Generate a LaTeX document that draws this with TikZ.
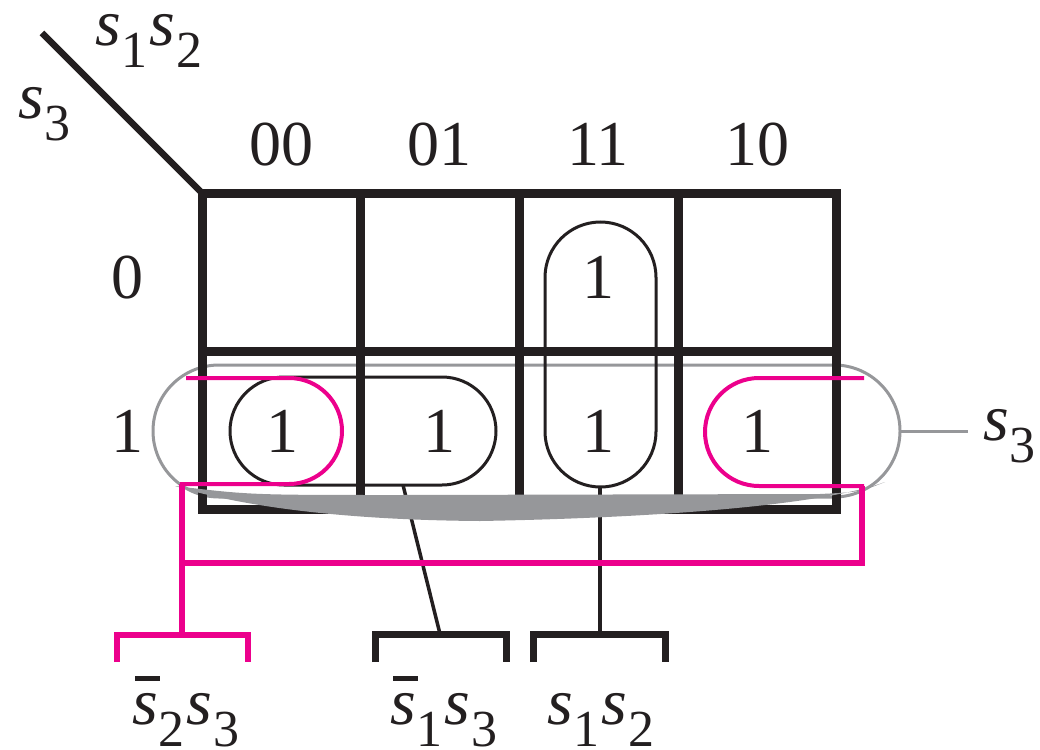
\documentclass[tikz,border=0pt]{standalone}
\usepackage{fontspec}
\setmainfont{Liberation Serif}
\definecolor{kblack}{RGB}{35,31,32}
\definecolor{kpink}{RGB}{236,0,140}
\definecolor{kgray}{RGB}{150,151,154}
\newcommand{\digitfont}{\fontsize{64}{64}\selectfont}
\newcommand{\sv}[1]{{\fontsize{66}{66}\selectfont\itshape s}\kern1pt\raisebox{-22pt}{\fontsize{52}{52}\selectfont #1}\kern2pt}
\newcommand{\sbv}[1]{\rlap{\kern3pt\color{kblack}\rule[43pt]{25pt}{5pt}}\sv{#1}}
\tikzset{
  gridline/.style={kblack, line width=9pt, line cap=rect},
  loopline/.style={kblack, line width=3pt},
  stemline/.style={kblack, line width=3.5pt},
  bracketline/.style={kblack, line width=7pt},
  pinkloop/.style={kpink, line width=4pt},
  pinkline/.style={kpink, line width=6pt},
  grayloop/.style={kgray, line width=3pt},
  lab/.style={inner sep=0pt, text=kblack},
  dig/.style={inner sep=0pt, text=kblack, font=\digitfont, anchor=base},
}
\begin{document}
\begin{tikzpicture}[x=1pt,y=-1pt]
\useasboundingbox (0,0) rectangle (1040,749);
% gray s3 loop (under the grid)
\draw[grayloop, rounded corners=66pt] (153,365) rectangle (900,497);
\coordinate (g3r) at (900,431);
\coordinate (g3e) at (968,431);
\draw[grayloop] (g3r) -- (g3e);
% grid
\coordinate (c0) at (202,193);
\draw[gridline] (202,193) rectangle (836,509);
\draw[gridline] (202,351) -- (836,351);
\foreach \x in {360,519,678} \draw[gridline] (\x,193) -- (\x,509);
\coordinate (d0) at (42,33);
\draw[kblack, line width=6.5pt] (d0) -- (c0);
% black loops
\draw[loopline, rounded corners=54pt] (230,377) rectangle (496,485);
\draw[loopline, rounded corners=55.5pt] (545,222) rectangle (656,487);
\coordinate (l13) at (403,485);
\coordinate (l12) at (600,487);
% brackets (black)
\coordinate (b13) at (440,634);
\coordinate (b12) at (600,634);
\draw[bracketline] (375,662) -- (375,634) -- (506,634) -- (506,662);
\draw[bracketline] (533,662) -- (533,634) -- (665,634) -- (665,662);
\draw[stemline] (l13) -- (b13);
\draw[stemline] (l12) -- (b12);
% gray band
\fill[kgray] (175,486) .. controls (250,495) .. (400,495) -- (820,494)
  .. controls (860,492) .. (885,482)
  .. controls (820,506) and (650,518) .. (480,521)
  .. controls (340,520) and (240,506) .. (175,486) -- cycle;
% pink loops
\draw[pinkloop, rounded corners=53pt] (186,378) -- (342,378) -- (342,484) -- (180,484);
\draw[pinkloop, rounded corners=54pt] (864,378) -- (705,378) -- (705,486) -- (864,486);
\coordinate (p1) at (182,484);
\coordinate (p2) at (862,486);
\coordinate (pj) at (182,563);
\coordinate (pk) at (862,563);
\coordinate (pb) at (182,635);
\draw[pinkline] (p1) -- (pb);
\draw[pinkline] (p2) -- (pk) -- (pj);
\draw[pinkline] (117,662) -- (117,635) -- (248,635) -- (248,662);
% labels
\node[lab, anchor=base west] (ts12) at (95,46) {\sv{1}\sv{2}};
\node[lab, anchor=base west] (ts3) at (18,118) {\sv{3}};
\node[lab, anchor=base west] (rs3) at (983,440) {\sv{3}};
\node[lab, anchor=base west] (bs23) at (132,724) {\sbv{2}\sv{3}};
\node[lab, anchor=base west] (bs13) at (390,724) {\sbv{1}\sv{3}};
\node[lab, anchor=base west] (bs12) at (547,724) {\sv{1}\sv{2}};
\node[dig] (h00) at (281,165) {00};
\node[dig] (h01) at (439,165) {01};
\node[dig] (h11) at (598,165) {11};
\node[dig] (h10) at (757,165) {10};
\node[dig] (r0) at (127,298) {0};
\node[dig] (r1) at (127,452) {1};
\node[dig] (m0) at (598,298) {1};
\node[dig] (m1) at (282,452) {1};
\node[dig] (m2) at (439,452) {1};
\node[dig] (m3) at (598,452) {1};
\node[dig] (m4) at (757,452) {1};
\end{tikzpicture}
\end{document}
